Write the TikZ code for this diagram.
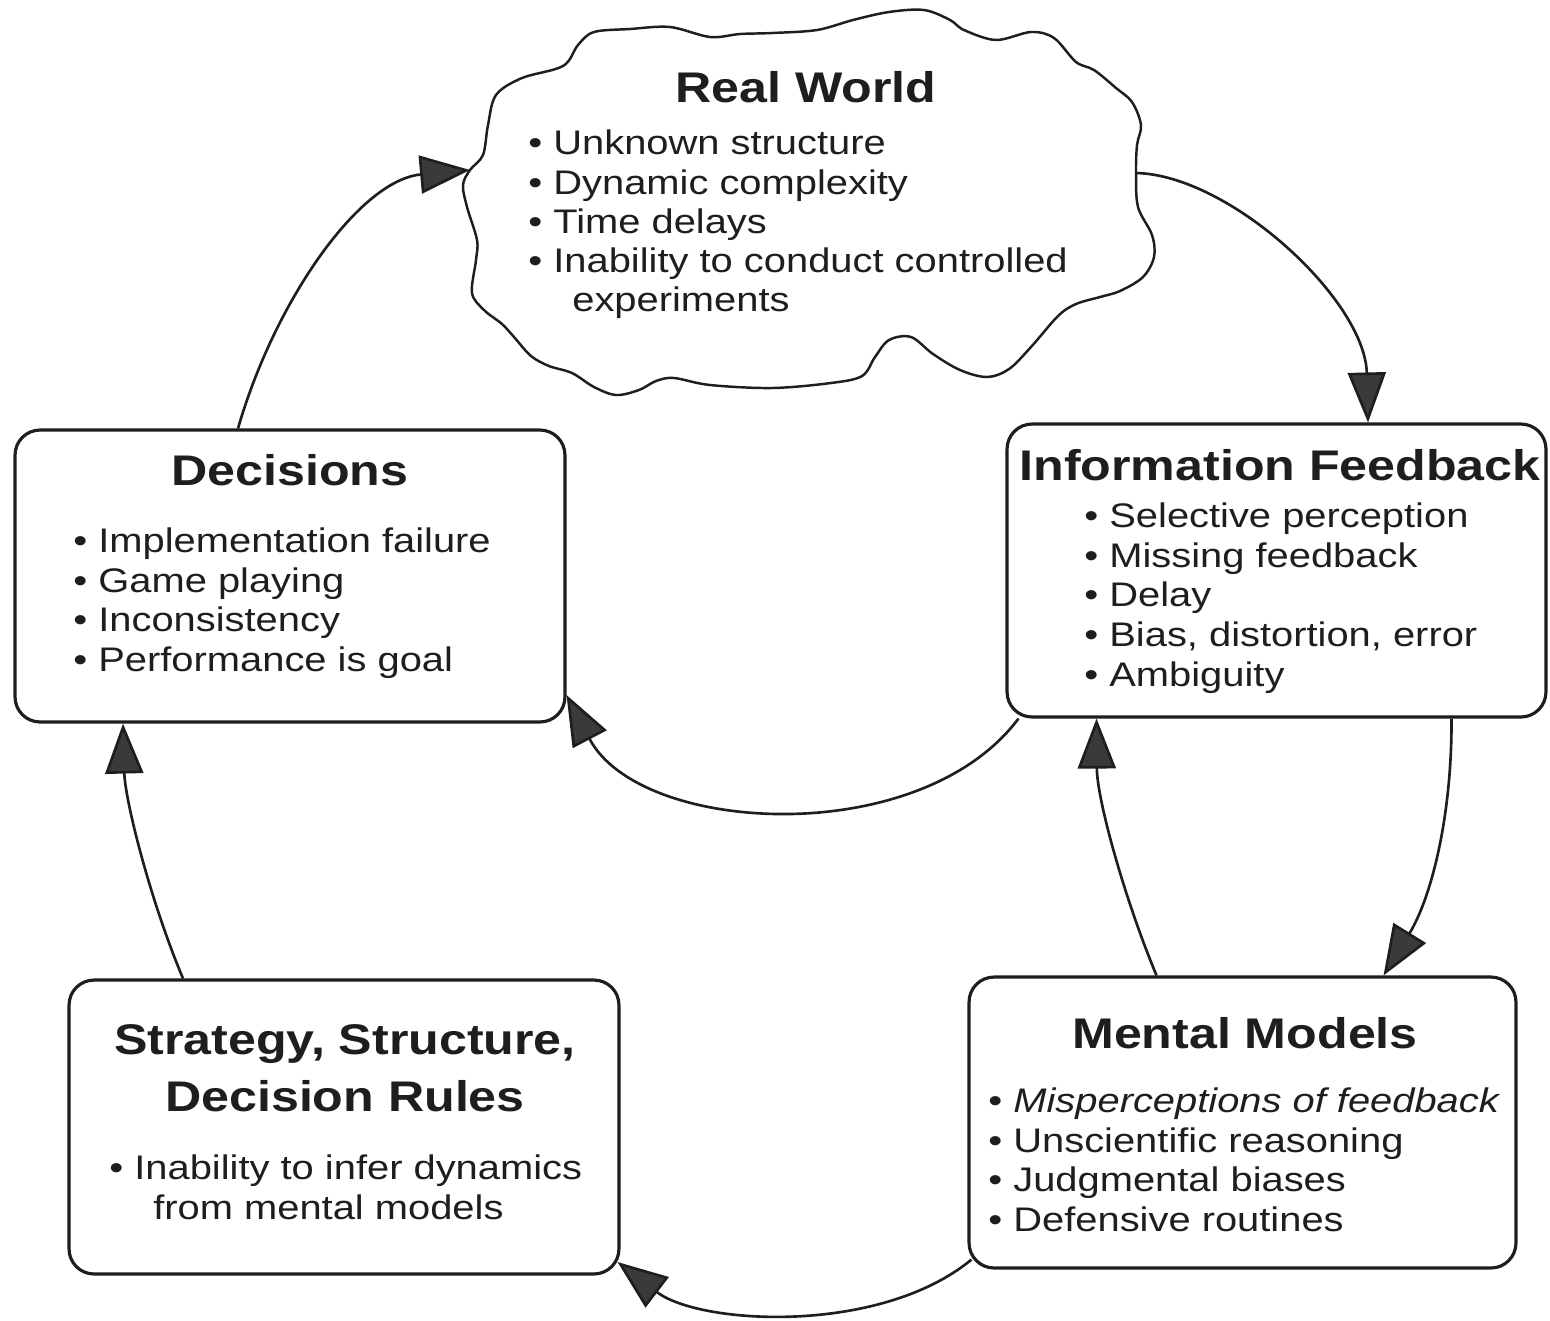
\documentclass[tikz,border=0pt]{standalone}
\usepackage{fontspec}
\newfontfamily\dfont[FakeStretch=1.17]{Liberation Sans}
\usetikzlibrary{arrows.meta,calc}
\definecolor{ink}{HTML}{1E1E1E}
\definecolor{headfill}{HTML}{3A3A3A}
\newcommand\bodytext{\dfont\fontsize{19.4}{23}\selectfont}
\newcommand\titletext{\dfont\bfseries\fontsize{24.4}{29}\selectfont}
\begin{document}
\begin{tikzpicture}[x=0.02cm,y=-0.02cm,
  box/.style={draw=ink, line width=1.8pt, rounded corners=0.5cm, inner sep=0},
  txt/.style={inner sep=0, anchor=base west, font=\bodytext, text=ink},
  ttl/.style={inner sep=0, anchor=base, font=\titletext, text=ink},
  conn/.style={draw=ink, line width=1.5pt, -{Triangle[length=1cm,width=0.76cm,fill=headfill]}},
  cloudline/.style={draw=ink, line width=1.4pt}]
\fill[white] (0,0) rectangle (1550,1320);
\useasboundingbox (0,0) rectangle (1550,1320);

% cloud
\draw[cloudline] plot[smooth cycle, tension=0.55] coordinates {
(470,170) (483,155) (488,125) (496,95) (522,78) (563,66) (578,45) (594,32) (630,29) (670,27)
(710,37) (740,34) (772,33) (817,30) (853,20) (889,12) (924,10) (950,20) (964,30) (996,40)
(1031,32) (1054,38) (1076,62) (1094,70) (1116,88) (1132,102) (1141,125) (1137,145) (1136,173)
(1138,207) (1152,235) (1154,257) (1143,277) (1120,291) (1100,297) (1076,304) (1058,316)
(1031,347) (1009,369) (987,377) (960,370) (933,354) (911,337) (889,340) (875,357) (862,376)
(831,383) (772,388) (710,385) (674,378) (656,381) (639,390) (616,395) (594,387) (572,373)
(549,366) (531,356) (514,337) (502,324) (484,310) (472,293) (476,260) (477,240) (467,207) (463,185)};
\coordinate (cloudL) at (470,170);
\coordinate (cloudR) at (1136,173);

% boxes
\node[box, minimum width=11cm, minimum height=5.84cm] (dec) at (290,576) {};
\node[box, minimum width=10.78cm, minimum height=5.86cm] (inf) at (1276.5,570.5) {};
\node[box, minimum width=10.94cm, minimum height=5.82cm] (men) at (1242.5,1122.5) {};
\node[box, minimum width=11cm, minimum height=5.88cm] (str) at (344,1127) {};

% Real World text
\node[ttl] (rwT) at (806,102) {Real World};
\node[txt] (rw1) at (528,154) {• Unknown structure};
\node[txt] (rw2) at (528,194) {• Dynamic complexity};
\node[txt] (rw3) at (528,233) {• Time delays};
\node[txt] (rw4) at (528,272) {• Inability to conduct controlled};
\node[txt] (rw5) at (572,311) {experiments};

% Decisions
\node[ttl] (decT) at (290,485) {Decisions};
\node[txt] (dec1) at (73,552) {• Implementation failure};
\node[txt] (dec2) at (73,592) {• Game playing};
\node[txt] (dec3) at (73,631) {• Inconsistency};
\node[txt] (dec4) at (73,671) {• Performance is goal};

% Information Feedback
\node[ttl] (infT) at (1280,480) {Information Feedback};
\node[txt] (inf1) at (1084,527) {• Selective perception};
\node[txt] (inf2) at (1084,567) {• Missing feedback};
\node[txt] (inf3) at (1084,606) {• Delay};
\node[txt] (inf4) at (1084,646) {• Bias, distortion, error};
\node[txt] (inf5) at (1084,686) {• Ambiguity};

% Mental Models
\node[ttl] (menT) at (1245,1048) {Mental Models};
\node[txt] (men1) at (988,1112) {• \itshape Misperceptions of feedback};
\node[txt] (men2) at (988,1152) {• Unscientific reasoning};
\node[txt] (men3) at (988,1191) {• Judgmental biases};
\node[txt] (men4) at (988,1231) {• Defensive routines};

% Strategy
\node[ttl] (strT1) at (345,1054) {Strategy, Structure,};
\node[ttl] (strT2) at (345,1111) {Decision Rules};
\node[txt] (str1) at (109,1179) {• Inability to infer dynamics};
\node[txt] (str2) at (153,1219) {from mental models};

% connectors
\draw[conn] ($(dec.north)+(-52,0)$) .. controls (275,300) and (360,180) .. (cloudL);
\draw[conn] (cloudR) .. controls (1230,175) and (1365,300) .. ($(inf.north)+(91.5,0)$);
\draw[conn] ($(inf.south west)+(13,0)$) .. controls (920,850) and (640,835) .. ($(dec.east)+(0,119)$);
\draw[conn] ($(inf.south)+(175,0)$) .. controls (1452,820) and (1430,900) .. ($(men.north)+(141,0)$);
\draw[conn] ($(men.north)+(-86,0)$) .. controls (1125,900) and (1097,800) .. ($(inf.south)+(-180,0)$);
\draw[conn] ($(men.south west)+(4,-10)$) .. controls (880,1335) and (700,1325) .. ($(str.east)+(-3,135)$);
\draw[conn] ($(str.north)+(-161,0)$) .. controls (150,900) and (125,800) .. ($(dec.south)+(-167,0)$);
\end{tikzpicture}
\end{document}
